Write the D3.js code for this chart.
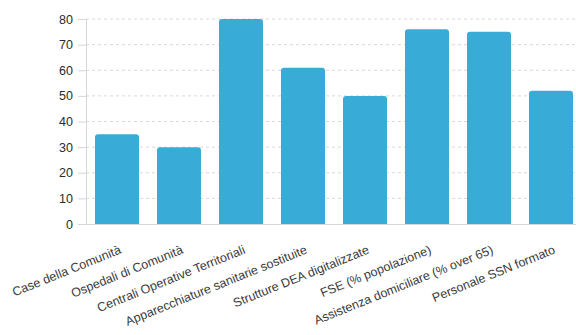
<!DOCTYPE html>
<html><head><meta charset="utf-8">
<script src="https://cdn.jsdelivr.net/npm/d3@7"></script>
<style>
html,body{margin:0;padding:0;background:#fff;}
svg{display:block;font-family:"Liberation Sans",Arial,Helvetica,sans-serif;}
</style></head>
<body>
<svg id="chart" width="576" height="335"></svg>
<script>
const categories = ["Case della Comunità","Ospedali di Comunità","Centrali Operative Territoriali","Apparecchiature sanitarie sostituite","Strutture DEA digitalizzate","FSE (% popolazione)","Assistenza domiciliare (% over 65)","Personale SSN formato"];
const values = [35, 30, 80, 61, 50, 76, 75, 52];
const yTicks = [0, 10, 20, 30, 40, 50, 60, 70, 80];

(function () {
const svg = d3.select("#chart");
const W = 576;
const mLeft = 86, mTop = 19, mBottom = 224, mRight = 582;

const x = d3.scaleBand().domain(categories).range([mLeft, mRight]).paddingInner(0.29).paddingOuter(0.145);
const y = d3.scaleLinear().domain([0, 80]).range([mBottom, mTop]);

// grid
svg.append("g").selectAll("line").data(yTicks.filter(d => d > 0)).join("line")
  .attr("x1", mLeft).attr("x2", W)
  .attr("y1", d => y(d)).attr("y2", d => y(d))
  .attr("stroke", "#d9d9d9").attr("stroke-width", 1).attr("stroke-dasharray", "3,3");

// y axis
const yAxis = svg.append("g").attr("transform", `translate(${mLeft},0)`)
  .call(d3.axisLeft(y).tickValues(yTicks).tickSize(8).tickPadding(5));
yAxis.select(".domain").attr("stroke", "#d6d6d6");
yAxis.selectAll(".tick line").attr("stroke", "#d6d6d6");
yAxis.selectAll(".tick text").attr("fill", "#2b2b2b").attr("font-size", 12.5).attr("font-family", "Liberation Sans, Arial, sans-serif");

// bars
svg.append("g").selectAll("path").data(categories).join("path")
  .attr("fill", "#38acd7")
  .attr("d", (c, i) => {
    const x0 = x(c), w = x.bandwidth(), y0 = y(values[i]), y1 = y(0), r = 3;
    return `M${x0},${y1}V${y0 + r}Q${x0},${y0} ${x0 + r},${y0}H${x0 + w - r}Q${x0 + w},${y0} ${x0 + w},${y0 + r}V${y1}Z`;
  });

// x axis
const xAxis = svg.append("g").attr("transform", `translate(0,${mBottom})`)
  .call(d3.axisBottom(x).tickSize(0).tickPadding(0));
xAxis.select(".domain").attr("stroke", "#d6d6d6");
xAxis.selectAll(".tick text")
  .attr("fill", "#3a3a3a").attr("font-size", 12.5).attr("font-family", "Liberation Sans, Arial, sans-serif")
  .attr("text-anchor", "end")
  .attr("transform", "translate(5,29) rotate(-22)")
  .attr("dy", 0).attr("y", 0).attr("x", 0);
})();
</script>
</body></html>
